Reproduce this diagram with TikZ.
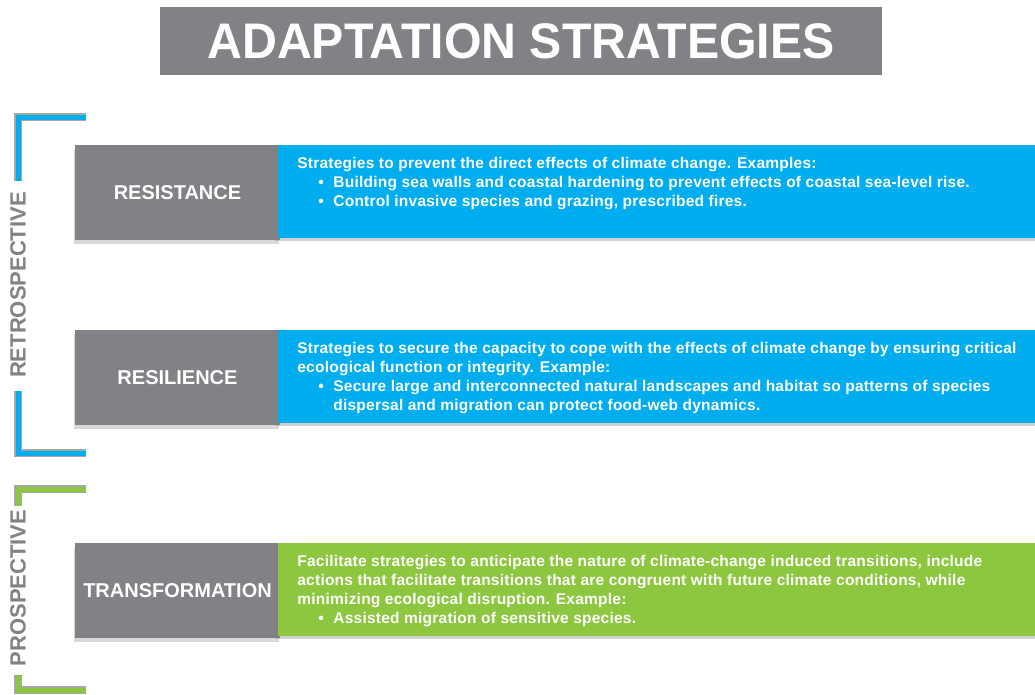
\documentclass[tikz,border=0pt]{standalone}
\usepackage{fontspec}
\setmainfont{Liberation Sans}
\usepackage{graphicx}
\usepackage{tikz}
\usetikzlibrary{positioning,shadows}
\definecolor{slate}{HTML}{808285}
\definecolor{skyblue}{HTML}{00AEEF}
\definecolor{leafgreen}{HTML}{8DC63F}
\newcommand{\bitem}{\hspace*{21pt}\makebox[15pt][l]{\textbullet}}
\newcommand{\bcont}{\hspace*{36pt}}

\begin{document}
\begin{tikzpicture}[x=1pt, y=-1pt,
    heading/.style={fill=slate, text=white, minimum width=722pt, minimum height=68pt, inner sep=0pt, font=\fontsize{50}{50}\selectfont\bfseries},
    stratbox/.style={fill=slate, text=white, minimum width=205pt, minimum height=95pt, inner sep=0pt, font=\fontsize{20}{22}\selectfont\bfseries, drop shadow={shadow xshift=-1pt, shadow yshift=-4pt, opacity=0.3}},
    descbox/.style={minimum width=760pt, minimum height=93pt, inner sep=0pt, anchor=north west, drop shadow={shadow xshift=-3pt, shadow yshift=-3pt, opacity=0.35}},
    desctxt/.style={text=white, align=left, inner sep=0pt, font=\fontsize{15.5}{19}\selectfont\bfseries\addfontfeature{LetterSpace=1.5}},
    sidelbl/.style={text=slate, rotate=90, inner sep=0pt, font=\fontsize{22}{22}\selectfont\bfseries},
    brkshade/.style={line width=7.5pt, draw=slate!70},
    brk/.style={line width=5pt}
]
\useasboundingbox[fill=white] (0,0) rectangle (1035,694);

% title
\node[heading] (title) at (521,41) {\scalebox{0.965}[1]{ADAPTATION STRATEGIES}};

% side brackets
\draw[brkshade] (86,117) -- (18,117) -- (18,181);
\draw[brk, skyblue] (86,117) -- (18,117) -- (18,181);
\draw[brkshade] (18,391) -- (18,453) -- (86,453);
\draw[brk, skyblue] (18,391) -- (18,453) -- (86,453);
\node[sidelbl] (retro) at (18,285) {RETROSPECTIVE};

\draw[brkshade] (86,489) -- (18,489) -- (18,506);
\draw[brk, leafgreen] (86,489) -- (18,489) -- (18,506);
\draw[brkshade] (18,675) -- (18,690) -- (86,690);
\draw[brk, leafgreen] (18,675) -- (18,690) -- (86,690);
\node[sidelbl] (prosp) at (18,588) {PROSPECTIVE};

% strategy rows
\node[stratbox] (resist) at (177.5,192.5) {RESISTANCE};
\node[descbox, fill=skyblue] (resistbox) at ([xshift=-2pt]resist.north east) {};
\node[desctxt, below right=12pt and 19pt of resistbox.north west] (resisttxt) {%
Strategies to prevent the direct effects of climate change. Examples:\\
\bitem Building sea walls and coastal hardening to prevent effects of coastal sea-level rise.\\
\bitem Control invasive species and grazing, prescribed fires.};

\node[stratbox] (resil) at (177.5,377.5) {RESILIENCE};
\node[descbox, fill=skyblue] (resilbox) at ([xshift=-2pt]resil.north east) {};
\node[desctxt, below right=12pt and 19pt of resilbox.north west] (resiltxt) {%
Strategies to secure the capacity to cope with the effects of climate change by ensuring critical\\
ecological function or integrity. Example:\\
\bitem Secure large and interconnected natural landscapes and habitat so patterns of species\\
\bcont dispersal and migration can protect food-web dynamics.};

\node[stratbox] (transf) at (177.5,590.5) {TRANSFORMATION};
\node[descbox, fill=leafgreen] (transfbox) at ([xshift=-2pt]transf.north east) {};
\node[desctxt, below right=12pt and 19pt of transfbox.north west] (transftxt) {%
Facilitate strategies to anticipate the nature of climate-change induced transitions, include\\
actions that facilitate transitions that are congruent with future climate conditions, while\\
minimizing ecological disruption. Example:\\
\bitem Assisted migration of sensitive species.};
\end{tikzpicture}
\end{document}
